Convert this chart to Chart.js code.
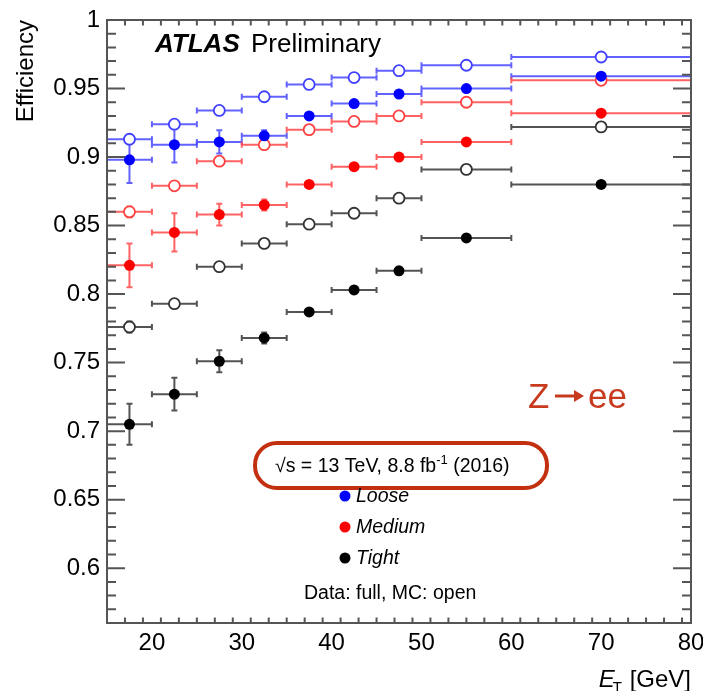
<!DOCTYPE html>
<html><head><meta charset="utf-8">
<script src="https://cdn.jsdelivr.net/npm/chart.js@4"></script>
<style>html,body{margin:0;padding:0;background:#fff;}canvas{display:block;}</style>
</head><body>
<canvas id="c" width="703" height="691"></canvas>
<script>
// ---- data ----
const binLow    = [15, 20, 25, 30, 35, 40, 45, 50, 60];
const binHigh   = [20, 25, 30, 35, 40, 45, 50, 60, 80];
const binCenter = [17.5, 22.5, 27.5, 32.5, 37.5, 42.5, 47.5, 55, 70];

const looseData    = [0.898, 0.909, 0.911, 0.9155, 0.930, 0.939, 0.946, 0.950, 0.959];
const looseDataErr = [0.017, 0.013, 0.0085, 0.004, 0.002, 0.002, 0.002, 0.002, 0.002];
const looseMC      = [0.913, 0.924, 0.934, 0.944, 0.953, 0.958, 0.963, 0.967, 0.973];
const looseMCErr   = [0.003, 0.002, 0.002, 0.001, 0.001, 0.001, 0.001, 0.001, 0.001];

const mediumData    = [0.821, 0.845, 0.858, 0.865, 0.880, 0.893, 0.900, 0.911, 0.932];
const mediumDataErr = [0.016, 0.014, 0.008, 0.004, 0.002, 0.002, 0.002, 0.002, 0.002];
const mediumMC      = [0.860, 0.879, 0.897, 0.909, 0.920, 0.926, 0.930, 0.940, 0.956];
const mediumMCErr   = [0.004, 0.002, 0.002, 0.001, 0.001, 0.001, 0.001, 0.001, 0.001];

const tightData    = [0.705, 0.727, 0.751, 0.768, 0.787, 0.803, 0.817, 0.841, 0.880];
const tightDataErr = [0.015, 0.012, 0.008, 0.004, 0.002, 0.002, 0.002, 0.002, 0.002];
const tightMC      = [0.776, 0.793, 0.820, 0.837, 0.851, 0.859, 0.870, 0.891, 0.922];
const tightMCErr   = [0.004, 0.003, 0.002, 0.001, 0.001, 0.001, 0.001, 0.001, 0.001];

const xTickValues = [20, 30, 40, 50, 60, 70, 80];
const yTickValues = [0.6, 0.65, 0.7, 0.75, 0.8, 0.85, 0.9, 0.95, 1];
const xMinorStep = 2, yMinorStep = 0.01;

const legendLabels = ['Loose', 'Medium', 'Tight'];

// ---- styles ----
const FONT = '"Liberation Sans", Arial, Helvetica, sans-serif';
const markerCol = ['#0000ff', '#ff0000', '#000000'];
const lineCol = ['rgba(70,70,255,0.85)', 'rgba(255,70,70,0.85)', 'rgba(40,40,40,0.8)'];
const openCol = ['#4040ff', '#ff4040', '#333333'];

function pts(vals){ return binCenter.map((x,i)=>({x:x, y:vals[i]})); }

function ds(vals, errs, idx, open){
  return {
    data: pts(vals),
    yErr: errs,
    lineColor: lineCol[idx],
    showLine: false,
    pointRadius: 5.5,
    pointHoverRadius: 5.5,
    pointBackgroundColor: open ? '#ffffff' : markerCol[idx],
    pointBorderColor: open ? openCol[idx] : markerCol[idx],
    pointBorderWidth: open ? 1.8 : 0,
  };
}

const datasets = [
  ds(looseData, looseDataErr, 0, false),
  ds(looseMC, looseMCErr, 0, true),
  ds(mediumMC, mediumMCErr, 1, true),
  ds(mediumData, mediumDataErr, 1, false),
  ds(tightData, tightDataErr, 2, false),
  ds(tightMC, tightMCErr, 2, true),
];

const errorBars = {
  id: 'errorBars',
  beforeDatasetsDraw(chart){
    const ctx = chart.ctx, xs = chart.scales.x, ys = chart.scales.y;
    ctx.save();
    ctx.beginPath();
    ctx.rect(chart.chartArea.left, chart.chartArea.top, chart.chartArea.width, chart.chartArea.height);
    ctx.clip();
    ctx.lineWidth = 2;
    chart.data.datasets.forEach(d => {
      ctx.strokeStyle = d.lineColor;
      d.data.forEach((p, i) => {
        const x0 = xs.getPixelForValue(binLow[i]);
        const x1 = xs.getPixelForValue(binHigh[i]);
        const xc = xs.getPixelForValue(p.x);
        const yc = ys.getPixelForValue(p.y);
        const yt = ys.getPixelForValue(p.y + d.yErr[i]);
        const yb = ys.getPixelForValue(p.y - d.yErr[i]);
        ctx.beginPath();
        ctx.moveTo(x0, yc); ctx.lineTo(x1, yc);
        ctx.moveTo(x0, yc - 3); ctx.lineTo(x0, yc + 3);
        ctx.moveTo(x1, yc - 3); ctx.lineTo(x1, yc + 3);
        ctx.moveTo(xc, yt); ctx.lineTo(xc, yb);
        ctx.moveTo(xc - 3, yt); ctx.lineTo(xc + 3, yt);
        ctx.moveTo(xc - 3, yb); ctx.lineTo(xc + 3, yb);
        ctx.stroke();
      });
    });
    ctx.restore();
  }
};

const frameTicks = {
  id: 'frameTicks',
  afterDatasetsDraw(chart){
    const ctx = chart.ctx, xs = chart.scales.x, ys = chart.scales.y, a = chart.chartArea;
    ctx.save();
    ctx.strokeStyle = '#555';
    ctx.lineWidth = 2;
    ctx.beginPath();
    for (let v = xs.min; v <= xs.max + 1e-9; v += xMinorStep) {
      const px = xs.getPixelForValue(v);
      const major = xTickValues.some(t => Math.abs(t - v) < 1e-6);
      const L = major ? 11 : 5.5;
      ctx.moveTo(px, a.bottom); ctx.lineTo(px, a.bottom - L);
      ctx.moveTo(px, a.top); ctx.lineTo(px, a.top + L);
    }
    const n = Math.round((ys.max - ys.min) / yMinorStep);
    for (let k = 0; k <= n; k++) {
      const v = ys.min + k * yMinorStep;
      const py = ys.getPixelForValue(v);
      const major = yTickValues.some(t => Math.abs(t - v) < 1e-6);
      const L = major ? 18 : 9;
      ctx.moveTo(a.left, py); ctx.lineTo(a.left + L, py);
      ctx.moveTo(a.right, py); ctx.lineTo(a.right - L, py);
    }
    ctx.stroke();
    ctx.strokeRect(a.left, a.top, a.right - a.left, a.bottom - a.top);
    ctx.restore();
  }
};

const annotations = {
  id: 'annotations',
  afterDraw(chart){
    const ctx = chart.ctx, a = chart.chartArea;
    ctx.save();
    ctx.fillStyle = '#000';
    ctx.textBaseline = 'alphabetic';
    // ATLAS Preliminary
    ctx.font = 'italic bold 26px ' + FONT;
    ctx.textAlign = 'left';
    ctx.fillText('ATLAS', 155, 52);
    ctx.font = '26px ' + FONT;
    ctx.fillText('Preliminary', 251, 52);

    // y title
    ctx.save();
    ctx.translate(33, a.top);
    ctx.rotate(-Math.PI / 2);
    ctx.textAlign = 'right';
    ctx.font = '24px ' + FONT;
    ctx.fillText('Efficiency', 0, 0);
    ctx.restore();

    // x title: E_T [GeV]
    ctx.textAlign = 'left';
    ctx.font = '24px ' + FONT;
    const rest = ' [GeV]';
    const wRest = ctx.measureText(rest).width;
    ctx.font = '15px ' + FONT;
    const wT = ctx.measureText('T').width;
    ctx.font = 'italic 24px ' + FONT;
    const wE = ctx.measureText('E').width;
    let x0 = a.right - wRest - wT - wE + 1;
    ctx.fillText('E', x0, 687);
    ctx.font = '15px ' + FONT;
    ctx.fillText('T', x0 + wE - 2, 692);
    ctx.font = '24px ' + FONT;
    ctx.fillText(rest, x0 + wE + wT - 1, 687);

    // Z -> ee
    ctx.fillStyle = '#c83a1e';
    ctx.font = '35px ' + FONT;
    ctx.fillText('Z', 528, 408);
    ctx.fillText('ee', 588, 408);
    ctx.strokeStyle = '#c83a1e';
    ctx.lineWidth = 3;
    ctx.beginPath();
    ctx.moveTo(555, 396); ctx.lineTo(576, 396); ctx.stroke();
    ctx.beginPath();
    ctx.moveTo(584, 396); ctx.lineTo(574, 390); ctx.lineTo(574, 402); ctx.closePath(); ctx.fill();

    // red rounded box
    ctx.strokeStyle = '#c2300f';
    ctx.lineWidth = 4;
    ctx.beginPath();
    ctx.roundRect(255, 443, 292, 45, 22);
    ctx.stroke();

    // sqrt(s) text
    ctx.fillStyle = '#000';
    ctx.font = '19.5px ' + FONT;
    ctx.textBaseline = 'alphabetic';
    let tx = 275, by = 472;
    const s1 = '\u221As = 13 TeV, 8.8 fb';
    ctx.fillText(s1, tx, by);
    tx += ctx.measureText(s1).width;
    ctx.font = '13px ' + FONT;
    ctx.fillText('-1', tx, by - 8);
    tx += ctx.measureText('-1').width;
    ctx.font = '19.5px ' + FONT;
    ctx.fillText(' (2016)', tx, by);

    // legend
    const ly = [496, 527, 558];
    legendLabels.forEach((lab, i) => {
      ctx.fillStyle = markerCol[i];
      ctx.beginPath();
      ctx.arc(345, ly[i], 5.5, 0, Math.PI * 2);
      ctx.fill();
      ctx.fillStyle = '#000';
      ctx.font = 'italic 19.5px ' + FONT;
      ctx.textBaseline = 'middle';
      ctx.fillText(lab, 356, ly[i] + 1);
    });
    ctx.font = '19.5px ' + FONT;
    ctx.textBaseline = 'middle';
    ctx.fillText('Data: full, MC: open', 304, 594);
    ctx.restore();
  }
};

new Chart(document.getElementById('c'), {
  type: 'scatter',
  data: { datasets: datasets },
  options: {
    responsive: false,
    animation: false,
    events: [],
    layout: { padding: { top: 20, right: 12, left: 0, bottom: 0 } },
    plugins: { legend: { display: false }, tooltip: { enabled: false } },
    scales: {
      x: {
        type: 'linear', min: 15, max: 80,
        grid: { display: false, drawTicks: false },
        border: { display: false },
        afterBuildTicks: s => { s.ticks = xTickValues.map(v => ({ value: v })); },
        afterFit: s => { s.height = 68; s.paddingLeft = 0; s.paddingRight = 0; },
        ticks: { color: '#000', font: { family: FONT, size: 24 }, padding: 6, maxRotation: 0, autoSkip: false }
      },
      y: {
        type: 'linear', min: 0.56, max: 1,
        grid: { display: false, drawTicks: false },
        border: { display: false },
        afterBuildTicks: s => { s.ticks = yTickValues.map(v => ({ value: v })); },
        afterFit: s => { s.width = 107; s.paddingTop = 0; s.paddingBottom = 0; },
        ticks: { color: '#000', font: { family: FONT, size: 24 }, padding: 7, autoSkip: false,
                 callback: v => String(Math.round(v * 100) / 100) }
      }
    }
  },
  plugins: [errorBars, frameTicks, annotations]
});
</script>
</body></html>
